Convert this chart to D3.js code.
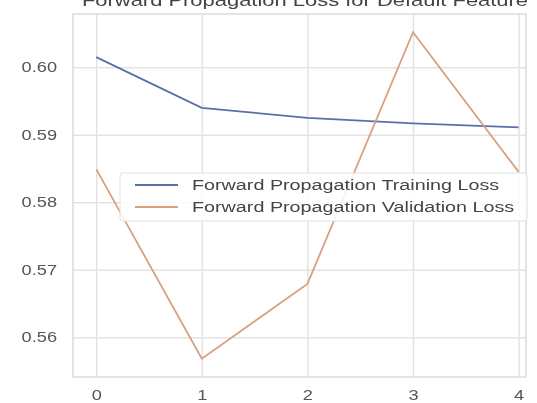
<!DOCTYPE html>
<html>
<head>
<meta charset="utf-8">
<script src="https://cdn.jsdelivr.net/npm/d3@7"></script>
<style>
  body { margin: 0; background: #fff; }
  svg { display: block; filter: blur(0.4px); }
  text { font-family: "Liberation Sans", Arial, sans-serif; }
</style>
</head>
<body>
<div id="chart"></div>
<script>
// values
var epochs = [0, 1, 2, 3, 4];
var trainLoss = [0.6015, 0.5940, 0.5925, 0.5917, 0.5911];
var validLoss = [0.5849, 0.5568, 0.5679, 0.6052, 0.5845];
var yTicks = [0.56, 0.57, 0.58, 0.59, 0.60];
var seriesNames = ["Forward Propagation Training Loss", "Forward Propagation Validation Loss"];
var titleText = "Forward Propagation Loss for Default Feature";

var width = 537, height = 403;
var plotLeft = 73, plotRight = 526, plotTop = 14, plotBottom = 377;

var svg = d3.select("#chart")
    .append("svg")
    .attr("width", width)
    .attr("height", height);

var x = d3.scaleLinear().domain([-0.22, 4.07]).range([plotLeft, plotRight]);
var y = d3.scaleLinear().domain([0.5541, 0.6079]).range([plotBottom, plotTop]);

// text in the picture is stretched sideways
function stretch(sel, k) {
    sel.each(function() {
        var w = this.getComputedTextLength();
        d3.select(this).attr("textLength", w * k).attr("lengthAdjust", "spacingAndGlyphs");
    });
}

// grid
svg.append("g")
    .attr("transform", "translate(0," + plotBottom + ")")
    .call(d3.axisBottom(x).tickValues(epochs).tickSize(-(plotBottom - plotTop)).tickFormat(""))
    .call(g => g.select(".domain").remove())
    .call(g => g.selectAll("line").attr("stroke", "#e3e3e3").attr("stroke-width", 1.5));

svg.append("g")
    .attr("transform", "translate(" + plotLeft + ",0)")
    .call(d3.axisLeft(y).tickValues(yTicks).tickSize(-(plotRight - plotLeft)).tickFormat(""))
    .call(g => g.select(".domain").remove())
    .call(g => g.selectAll("line").attr("stroke", "#e3e3e3").attr("stroke-width", 1.5));

// frame
svg.append("rect")
    .attr("x", plotLeft).attr("y", plotTop)
    .attr("width", plotRight - plotLeft).attr("height", plotBottom - plotTop)
    .attr("fill", "none")
    .attr("stroke", "#dcdcdc")
    .attr("stroke-width", 1.5);

// tick labels
var xAxis = svg.append("g")
    .attr("transform", "translate(0," + plotBottom + ")")
    .call(d3.axisBottom(x).tickValues(epochs).tickSize(0).tickPadding(13).tickFormat(d3.format("d")));
xAxis.select(".domain").remove();
xAxis.selectAll("text").attr("font-size", 14).attr("fill", "#555").call(stretch, 1.3);

var yAxis = svg.append("g")
    .attr("transform", "translate(" + plotLeft + ",0)")
    .call(d3.axisLeft(y).tickValues(yTicks).tickSize(0).tickPadding(16).tickFormat(d3.format(".2f")));
yAxis.select(".domain").remove();
yAxis.selectAll("text").attr("font-size", 14).attr("fill", "#555").call(stretch, 1.3);

// lines
var colors = ["#5a6fa6", "#d9a07e"];
var line = d3.line()
    .x((d, i) => x(epochs[i]))
    .y(d => y(d));

[trainLoss, validLoss].forEach(function(s, i) {
    svg.append("path")
        .datum(s)
        .attr("fill", "none")
        .attr("stroke", colors[i])
        .attr("stroke-width", 1.8)
        .attr("d", line);
});

// title (cut off at the top of the picture)
svg.append("text")
    .attr("x", 305)
    .attr("y", 6)
    .attr("text-anchor", "middle")
    .attr("font-size", 17)
    .attr("fill", "#444")
    .text(titleText)
    .call(stretch, 1.29);

// legend
var legend = svg.append("g").attr("transform", "translate(120,173)");
legend.append("rect")
    .attr("width", 407).attr("height", 48)
    .attr("rx", 3)
    .attr("fill", "#fff").attr("fill-opacity", 0.85)
    .attr("stroke", "#e0e0e0");

seriesNames.forEach(function(name, i) {
    var row = legend.append("g").attr("transform", "translate(0," + (12 + i * 22) + ")");
    row.append("line")
        .attr("x1", 15).attr("x2", 58)
        .attr("stroke", colors[i])
        .attr("stroke-width", 1.8);
    row.append("text")
        .attr("x", 72).attr("y", 5)
        .attr("font-size", 14)
        .attr("fill", "#444")
        .text(name)
        .call(stretch, 1.41);
});
</script>
</body>
</html>
